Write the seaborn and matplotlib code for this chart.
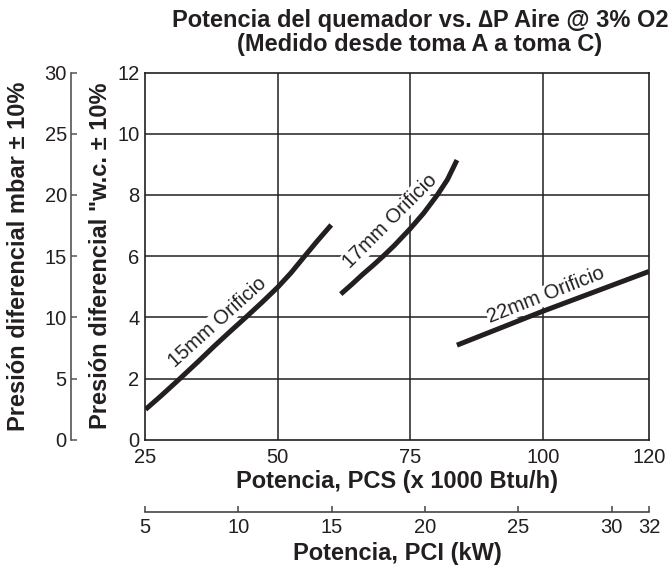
import pandas as pd
import matplotlib
matplotlib.use("Agg")
import matplotlib.pyplot as plt
import seaborn as sns

# ------------------------------------------------------------
# Data (x: PCS x1000 Btu/h, y: "w.c.)
# ------------------------------------------------------------
pcs_15 = [25.1, 28.0, 31.6, 35.0, 38.0, 41.0, 44.0, 47.0, 50.0, 52.5, 55.1, 57.5, 60.1]
dp_15 = [0.99, 1.43, 2.0, 2.55, 3.05, 3.53, 4.0, 4.48, 4.98, 5.45, 6.0, 6.5, 7.02]

pcs_17 = [61.9, 64.0, 66.0, 68.0, 69.9, 72.0, 75.0, 77.5, 80.1, 82.0, 83.8]
dp_17 = [4.76, 5.08, 5.4, 5.7, 6.0, 6.35, 6.9, 7.4, 8.0, 8.5, 9.14]

pcs_22 = [83.8, 100.0, 120.0]
dp_22 = [3.09, 4.20, 5.50]

orifices = ["15mm Orificio", "17mm Orificio", "22mm Orificio"]
x_ticks = [25, 50, 75, 100, 120]
y_ticks = [0, 2, 4, 6, 8, 10, 12]
mbar_ticks = [0, 5, 10, 15, 20, 25, 30]
kw_ticks = [5, 10, 15, 20, 25, 30, 32]

df = pd.concat([
    pd.DataFrame({"pcs": pcs_15, "dp": dp_15, "orificio": orifices[0]}),
    pd.DataFrame({"pcs": pcs_17, "dp": dp_17, "orificio": orifices[1]}),
    pd.DataFrame({"pcs": pcs_22, "dp": dp_22, "orificio": orifices[2]}),
])

sns.set_theme(style="white")
plt.rcParams["font.family"] = ["Liberation Sans", "DejaVu Sans"]

ink = "#231f20"
W, H = 671, 574
fig = plt.figure(figsize=(W / 100, H / 100), dpi=100)
ax = fig.add_axes([145 / W, 1 - 439.7 / H, 504 / W, 367.1 / H])

sns.lineplot(data=df, x="pcs", y="dp", units="orificio", estimator=None,
             color=ink, linewidth=3.6, sort=False, ax=ax, legend=False,
             solid_capstyle="butt")

ax.set_xlim(25, 120)
ax.set_ylim(0, 12)
ax.set_xticks(x_ticks)
ax.set_yticks(y_ticks)
ax.set_xticklabels([str(t) for t in x_ticks])
ax.set_yticklabels([str(t) for t in y_ticks])
for v in x_ticks[1:-1]:
    ax.axvline(v, color=ink, lw=1.1, zorder=0)
for v in y_ticks[1:-1]:
    ax.axhline(v, color=ink, lw=1.1, zorder=0)
for s in ax.spines.values():
    s.set_color(ink)
    s.set_linewidth(1.2)
ax.tick_params(axis="both", length=0, labelsize=14.5, colors=ink)
ax.tick_params(axis="x", pad=6)
ax.tick_params(axis="y", pad=4)
ax.set_xlabel("Potencia, PCS (x 1000 Btu/h)", fontsize=17, fontweight="bold", color=ink)
ax.set_ylabel('Presión diferencial "w.c. ± 10%', fontsize=17, fontweight="bold", color=ink)
ax.xaxis.set_label_coords(0.5, -0.083)
ax.yaxis.set_label_coords(-0.0655, 0.5)

# curve labels
label_pos = [(38.6, 3.85, 42), (71.2, 7.15, 45), (100.6, 4.72, 21.5)]
for name, (lx, ly, rot) in zip(orifices, label_pos):
    ax.text(lx, ly, name, rotation=rot, rotation_mode="anchor", ha="center",
            va="center", fontsize=14.5, color=ink, zorder=3,
            bbox=dict(facecolor="white", edgecolor="none", pad=0.5))

# mbar axis on the far left
ax_mbar = ax.twinx()
ax_mbar.set_ylim(0, 30)
ax_mbar.set_yticks(mbar_ticks)
ax_mbar.yaxis.set_ticks_position("left")
ax_mbar.yaxis.set_label_position("left")
ax_mbar.spines["left"].set_position(("outward", 74 * 0.72))
for k in ["right", "top", "bottom"]:
    ax_mbar.spines[k].set_visible(False)
ax_mbar.spines["left"].set_color("#555555")
ax_mbar.spines["left"].set_linewidth(1.2)
ax_mbar.tick_params(axis="y", direction="in", length=4, width=1.1, color="#555555",
                    labelsize=14.5, labelcolor=ink, pad=3)
ax_mbar.set_ylabel("Presión diferencial mbar ± 10%", fontsize=17, fontweight="bold", color=ink)
ax_mbar.yaxis.set_label_coords(-0.228, 0.5)

# kW axis below
ax_kw = ax.twiny()
ax_kw.set_xlim(5, 32)
ax_kw.set_xticks(kw_ticks)
ax_kw.xaxis.set_ticks_position("bottom")
ax_kw.xaxis.set_label_position("bottom")
ax_kw.spines["bottom"].set_position(("outward", 72.3 * 0.72))
for k in ["right", "top", "left"]:
    ax_kw.spines[k].set_visible(False)
ax_kw.spines["bottom"].set_color("#444444")
ax_kw.spines["bottom"].set_linewidth(1.2)
ax_kw.tick_params(axis="x", direction="in", length=4, width=1.1, color="#444444",
                  labelsize=14.5, labelcolor=ink, pad=4)
ax_kw.set_xlabel("Potencia, PCI (kW)", fontsize=17, fontweight="bold", color=ink)
ax_kw.xaxis.set_label_coords(0.5, -0.279)

fig.text(420 / W, 1 - 21 / H, "Potencia del quemador vs. ∆P Aire @ 3% O2",
         ha="center", va="center", fontsize=17, fontweight="bold", color=ink)
fig.text(420 / W, 1 - 45 / H, "(Medido desde toma A a toma C)",
         ha="center", va="center", fontsize=17, fontweight="bold", color=ink)

fig.savefig("out.png", dpi=100)
